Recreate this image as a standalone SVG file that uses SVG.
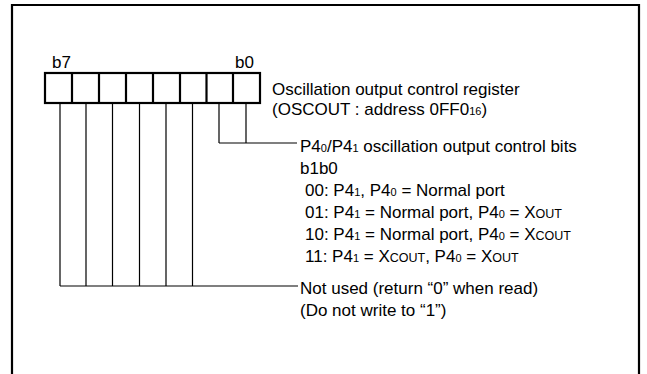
<svg xmlns="http://www.w3.org/2000/svg" width="647" height="374" viewBox="0 0 647 374">
<style>
text{font-family:"Liberation Sans",Arial,sans-serif;font-size:17px;fill:#000}
.s{font-size:11px}
.c{font-size:12.5px}
.ln{stroke:#000;stroke-width:1.2;fill:none}
.bx{stroke:#000;stroke-width:2.2;fill:#fff}
</style>
<rect width="647" height="374" fill="#fff"/>
<path d="M12,374 V5 H639 V374" fill="none" stroke="#000" stroke-width="2.2"/>
<g id="register">
<text x="52" y="68">b7</text>
<text x="235" y="68">b0</text>
<rect class="bx" x="45" y="73" width="215" height="30"/>
<path class="ln" style="stroke-width:2.2" d="M72,73V103M99,73V103M126,73V103M153,73V103M180,73V103M206.5,73V103M233,73V103"/>
<text x="272" y="95">Oscillation output control register</text>
<text x="272" y="115">(OSCOUT : address 0FF0<tspan class="s">16</tspan>)</text>
</g>
<g id="connectors">
<path class="ln" d="M60,103V286M86,103V286M112.5,103V286M139.5,103V286M166,103V286M192.5,103V286M60,286H298"/>
<path class="ln" d="M219,103V143M246,103V143M219,143H297"/>
</g>
<g id="bits10">
<text x="300" y="152">P4<tspan class="s">0</tspan>/P4<tspan class="s">1</tspan> oscillation output control bits</text>
<text x="300" y="174">b1b0</text>
<text x="305" y="196">00: P4<tspan class="s">1</tspan>, P4<tspan class="s">0</tspan> = Normal port</text>
<text x="305" y="218">01: P4<tspan class="s">1</tspan> = Normal port, P4<tspan class="s">0</tspan> = X<tspan class="c">OUT</tspan></text>
<text x="305" y="240">10: P4<tspan class="s">1</tspan> = Normal port, P4<tspan class="s">0</tspan> = X<tspan class="c">COUT</tspan></text>
<text x="305" y="262">11: P4<tspan class="s">1</tspan> = X<tspan class="c">COUT</tspan>, P4<tspan class="s">0</tspan> = X<tspan class="c">OUT</tspan></text>
</g>
<g id="bits72">
<text x="300" y="294">Not used (return “0” when read)</text>
<text x="300" y="316">(Do not write to “1”)</text>
</g>
</svg>
